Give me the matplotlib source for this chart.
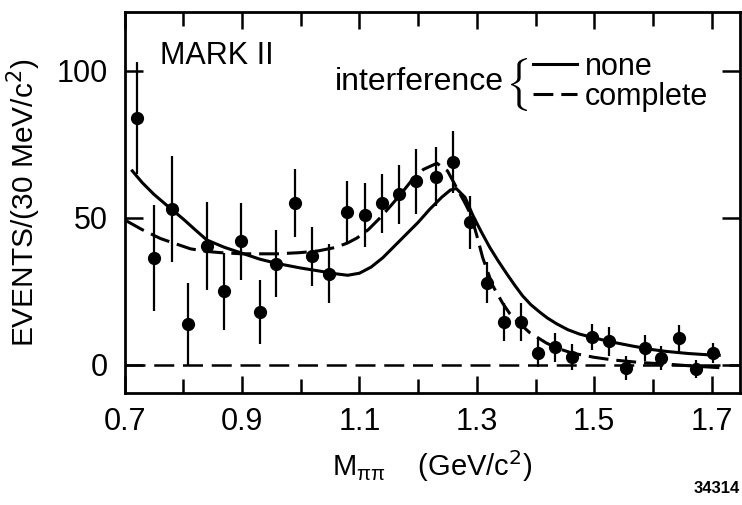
import numpy as np
import matplotlib as mpl
mpl.use('Agg')
import matplotlib.pyplot as plt
from matplotlib.lines import Line2D

plt.rcParams['font.family'] = ['Liberation Sans', 'DejaVu Sans']

# measured points: M_pipi (GeV/c^2), events / 30 MeV/c^2, error
m_pts = [0.721, 0.750, 0.781, 0.808, 0.840, 0.869, 0.898, 0.931, 0.958,
         0.990, 1.019, 1.048, 1.079, 1.109, 1.138, 1.167, 1.196, 1.230,
         1.259, 1.288, 1.317, 1.346, 1.375, 1.404, 1.434, 1.463, 1.496,
         1.525, 1.554, 1.586, 1.613, 1.644, 1.674, 1.702]
events = [84, 36.5, 53, 14, 40.5, 25, 42, 18, 34.5,
          55, 37, 31, 52, 51, 55, 58, 62.5, 64,
          69, 48.5, 28, 14.5, 14.5, 4.2, 6, 2.7, 9.5,
          8, -1, 5.7, 2.4, 9, -1.4, 4]
errors = [19, 18, 18, 14, 15, 13, 13, 11, 11.5,
          11.5, 10, 10, 10.5, 11, 10, 10, 11, 10,
          10.5, 9, 7, 6.5, 6.5, 5, 5, 4.5, 4.5,
          5, 4, 4.5, 4, 4.5, 3, 3.5]

# fit without interference (solid)
m_none = [0.713, 0.73, 0.75, 0.777, 0.80, 0.82, 0.84, 0.87, 0.897, 0.93,
          0.96, 0.999, 1.03, 1.06, 1.08, 1.10, 1.12, 1.14, 1.16, 1.18,
          1.20, 1.22, 1.24, 1.255, 1.265, 1.28, 1.293, 1.307, 1.322, 1.336,
          1.351, 1.365, 1.378, 1.392, 1.407, 1.42, 1.436, 1.455, 1.475, 1.50,
          1.53, 1.566, 1.60, 1.623, 1.66, 1.69, 1.713]
fit_none = [66, 62, 58, 53.4, 49.6, 46, 42.5, 40, 38.2, 36,
            34.5, 33, 32, 31, 30.5, 31.2, 33.3, 36.5, 40.5, 44.5,
            48.5, 53, 57, 59.5, 60, 57, 51, 45.5, 40, 35.5,
            31, 27, 23.5, 20.5, 18, 16, 14, 12, 10.5, 9.2,
            7.8, 6.4, 5.2, 4.6, 3.9, 3.5, 3.3]

# fit with complete interference (dashed)
m_complete = [0.703, 0.73, 0.761, 0.79, 0.812, 0.84, 0.863, 0.90, 0.931, 0.96,
              0.999, 1.03, 1.06, 1.08, 1.096, 1.115, 1.135, 1.155, 1.174, 1.19,
              1.209, 1.232, 1.25, 1.265, 1.28, 1.29, 1.30, 1.31, 1.327, 1.344,
              1.356, 1.368, 1.39, 1.419, 1.44, 1.463, 1.50, 1.532, 1.58, 1.623,
              1.67, 1.72]
fit_complete = [49, 46, 43, 41, 39.5, 38.6, 38.2, 37.8, 37.8, 37.8,
                38.2, 38.8, 40, 41.5, 43.2, 46, 50, 54.5, 59, 63,
                66.5, 68.6, 66, 60.5, 55, 51, 44, 36.5, 27, 21,
                17.5, 15, 11, 7.4, 5.5, 4, 2.6, 1.7, 0.8, 0.3,
                -0.4, -1]

x_major = [0.7, 0.9, 1.1, 1.3, 1.5, 1.7]
x_minor = [0.8, 1.0, 1.2, 1.4, 1.6]
y_major = [0, 50, 100]

fig = plt.figure(figsize=(7.42, 5.05), dpi=100)
ax = fig.add_axes([0.168, 0.222, 0.829, 0.754])

ax.plot(m_none, fit_none, color='k', lw=2.2)
ax.plot(m_complete, fit_complete, color='k', lw=2.2, dashes=(6.5, 2.6))
ax.axhline(0, color='k', lw=1.8, dashes=(8, 3.5))
ax.errorbar(m_pts, events, yerr=errors, fmt='o', color='k', ms=8.5,
            elinewidth=1.6, capsize=0)

ax.set_xlim(0.7, 1.748)
ax.set_ylim(-9.5, 120)
ax.set_xticks(x_major)
ax.set_xticklabels(['%.1f' % v for v in x_major])
ax.set_xticks(x_minor, minor=True)
ax.set_yticks(y_major)
ax.tick_params(axis='x', which='both', direction='in', top=True,
               width=1.8, labelsize=22, pad=10)
ax.tick_params(axis='x', which='major', length=12)
ax.tick_params(axis='x', which='minor', length=10)
ax.tick_params(axis='y', direction='in', right=True, length=13,
               width=1.8, labelsize=22, pad=12)
for s in ax.spines.values():
    s.set_linewidth(2)

ax.set_xlabel(r'M$_{\mathregular{\pi\pi}}$    (GeV/c$^2$)', fontsize=21)
ax.set_ylabel(r'EVENTS/(30 MeV/c$^2$)', fontsize=21.5)
ax.xaxis.set_label_coords(0.5, -0.145)
ax.yaxis.set_label_coords(-0.133, 0.5)

ax.text(0.058, 0.885, 'MARK II', transform=ax.transAxes, fontsize=22,
        va='center')
ax.text(0.616, 0.795, 'interference', transform=ax.transAxes, fontsize=23,
        ha='right', va='baseline')
ax.text(0.637, 0.81, r'$\{$', transform=ax.transAxes, fontsize=32,
        math_fontfamily='cm', ha='center', va='center')
handles = [Line2D([], [], color='k', lw=2.2),
           Line2D([], [], color='k', lw=2.2, dashes=(6.5, 2.6))]
ax.legend(handles, ['none', 'complete'], loc='upper left',
          bbox_to_anchor=(0.664, 0.895), frameon=False, fontsize=22,
          handlelength=1.45, handletextpad=0.25, labelspacing=0.0,
          borderpad=0, borderaxespad=0)

fig.text(0.997, 0.018, '34314', ha='right', va='bottom', fontsize=12,
         fontweight='bold')

plt.savefig('out.png', dpi=100)
plt.close()
